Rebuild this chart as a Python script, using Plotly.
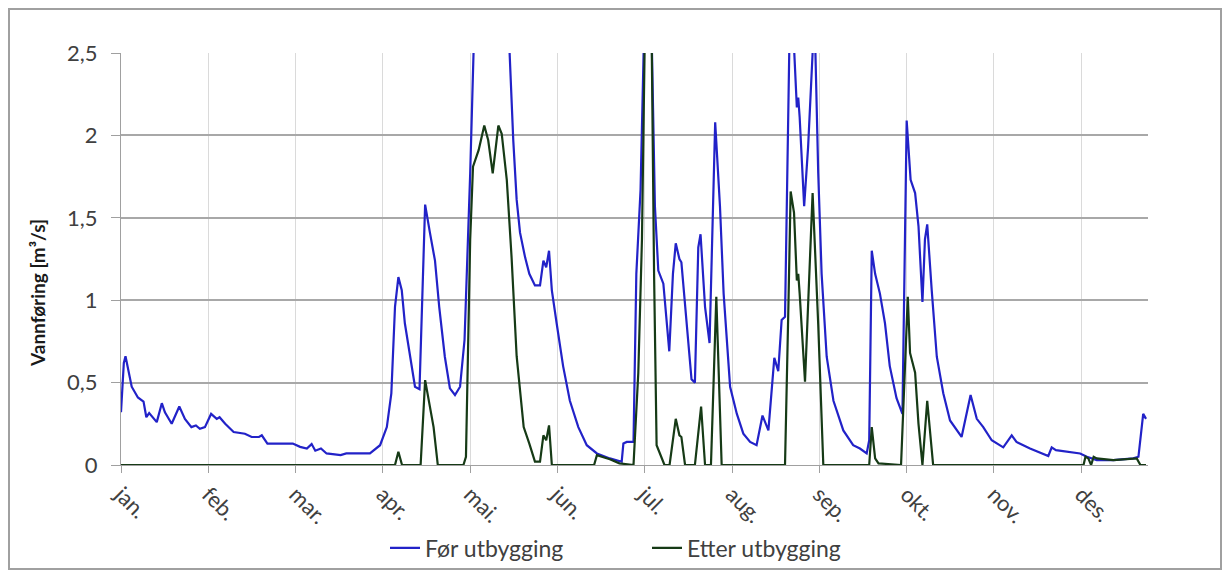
import plotly.graph_objects as go

# ---- data (day of year -> discharge m3/s) ----
month_labels = ["jan.", "feb.", "mar.", "apr.", "mai.", "jun.", "jul.", "aug.", "sep.", "okt.", "nov.", "des."]
month_tick_days = [0, 31, 62, 93, 124, 155, 186, 217, 248, 279, 310, 341]

y_tick_vals = [0, 0.5, 1, 1.5, 2, 2.5]
y_tick_text = ["0", "0,5", "1", "1,5", "2", "2,5"]

for_days = [0, 1, 1.6, 3.8, 6, 8, 9, 10, 12.7, 14.5, 15.6, 18, 20.7, 22.7, 25, 26.6, 28, 29.8,
            32, 34, 35, 37, 40, 44, 46.4, 49, 50, 52, 61, 63.6, 66, 67.7, 69, 71, 73, 78, 80,
            88.4, 92, 94.4, 96, 97.3, 98.5, 99.7, 100.8, 102.6, 104.4, 106, 107, 108, 109.7,
            111.5, 113, 115, 116.8, 118.6, 120.4, 122, 124, 125, 126, 132, 137, 138, 139.3,
            140.5, 141.7, 143.5, 145, 147, 148.8, 150, 151, 152, 153, 154.7, 157, 159.4, 162.4,
            165.4, 169, 173.6, 177.8, 178.4, 179.6, 182, 183, 184.5, 185.5, 186.5, 188, 188.6,
            189.6, 190.8, 192.6, 194.7, 196, 197, 198.3, 199, 200.9, 202.6, 203.8, 205, 205.8,
            207.4, 209, 210, 211, 212.7, 214, 216.3, 218.7, 221, 223.4, 225.7, 227.8, 229.9,
            231, 232, 233.4, 234.6, 235.8, 237.3, 238, 239, 240, 240.5, 241, 242.6, 244, 245.6,
            246, 246.6, 247.6, 248.8, 250.6, 253, 256.5, 260, 262.4, 264.8, 265.7, 266.6, 267.8,
            269.5, 271.3, 273, 275.4, 277.5, 279, 280.4, 282, 283.2, 284.6, 285.5, 286.3, 287.9,
            289.7, 292, 294.4, 298.5, 301.7, 303.9, 306.2, 309.2, 313.3, 316.3, 318, 322.8,
            329.3, 330.5, 332, 340.6, 343, 346.5, 352.4, 359.5, 361.3, 363, 364]
for_values = [0.32, 0.62, 0.66, 0.475, 0.41, 0.385, 0.29, 0.315, 0.26, 0.375, 0.32, 0.25, 0.355, 0.28,
              0.23, 0.24, 0.22, 0.23, 0.31, 0.28, 0.29, 0.25, 0.2, 0.19, 0.17, 0.17, 0.18, 0.13,
              0.13, 0.11, 0.10, 0.127, 0.087, 0.1, 0.07, 0.06, 0.07, 0.07, 0.12, 0.23, 0.435,
              0.96, 1.14, 1.06, 0.86, 0.657, 0.475, 0.46, 0.96, 1.58, 1.41, 1.24, 0.96, 0.657,
              0.465, 0.425, 0.475, 0.76, 1.77, 2.55, 3.0, 3.3, 2.9, 2.5, 1.97, 1.61, 1.41, 1.26,
              1.16, 1.09, 1.09, 1.24, 1.2, 1.30, 1.06, 0.86, 0.6, 0.39, 0.23, 0.12, 0.07, 0.04,
              0.02, 0.13, 0.14, 0.14, 1.16, 1.67, 2.5, 3.2, 3.0, 2.5, 1.57, 1.18, 1.10, 0.69,
              1.16, 1.345, 1.25, 1.23, 0.84, 0.52, 0.5, 1.32, 1.40, 0.96, 0.74, 1.37, 2.08,
              1.57, 1.04, 0.475, 0.31, 0.19, 0.14, 0.12, 0.30, 0.21, 0.455, 0.65, 0.57, 0.88,
              0.9, 2.5, 2.9, 2.5, 2.17, 2.23, 2.11, 1.57, 1.93, 2.5, 2.7, 2.5, 1.77, 1.16, 0.657,
              0.39, 0.21, 0.12, 0.10, 0.07, 0.15, 1.30, 1.16, 1.04, 0.86, 0.6, 0.405, 0.31, 2.09,
              1.73, 1.65, 1.45, 0.99, 1.37, 1.46, 1.06, 0.657, 0.435, 0.27, 0.17, 0.425, 0.28,
              0.23, 0.15, 0.107, 0.18, 0.14, 0.10, 0.055, 0.107, 0.09, 0.07, 0.05, 0.03, 0.03,
              0.04, 0.05, 0.31, 0.28]

etter_days = [0, 97.3, 98.5, 99.8, 106.4, 108, 111, 112.5, 121.6, 122.5, 124, 125, 127, 129, 130.4,
              132, 134, 135.2, 137, 138.7, 140.5, 143, 145, 147, 148.8, 150, 151, 152, 153, 168,
              169, 173.6, 177, 182, 183.7, 185, 186, 187.5, 188.5, 189.3, 190.2, 191.6, 193,
              194.8, 197, 198.3, 199, 200.3, 203.8, 206, 207.4, 209.5, 211.4, 213.3, 235.8, 237,
              237.8, 239, 240, 240.5, 241, 242.9, 244, 245.6, 247.6, 249.4, 265.7, 266.6, 267.8,
              269, 277, 279.4, 280.2, 282, 283.2, 284.6, 286.3, 288.4, 341.8, 342.5, 343.5, 344.5,
              345.4, 346.5, 352.4, 360.7, 362, 364]
etter_values = [0, 0, 0.08, 0, 0, 0.515, 0.23, 0, 0, 0.05, 1.37, 1.81, 1.91, 2.06, 1.97, 1.77, 2.06,
                2.01, 1.73, 1.26, 0.66, 0.23, 0.13, 0.02, 0.02, 0.18, 0.15, 0.24, 0, 0, 0.06,
                0.035, 0.01, 0, 0.56, 1.37, 2.6, 2.8, 2.5, 1.16, 0.12, 0.06, 0, 0, 0.28, 0.18,
                0.17, 0, 0, 0.355, 0, 0, 1.02, 0, 0, 0.96, 1.66, 1.53, 1.12, 1.16, 1.04, 0.505,
                1.0, 1.65, 0.85, 0, 0, 0.23, 0.04, 0.01, 0, 1.02, 0.68, 0.56, 0.25, 0, 0.39, 0,
                0, 0.05, 0.04, 0, 0.05, 0.04, 0.03, 0.04, 0, 0]

# ---- figure geometry (page has an 8px body margin) ----
OFF = 8
W, H = 1214, 562
L, T = 113, 45
pw, ph = 1027, 412
R = W - L - pw
B = H - T - ph

def px_x(page_x):
    return (page_x - OFF - L) / pw

def px_y(page_y):
    return (T + ph - (page_y - OFF)) / ph

text_col = "#404040"
font_family = "Lato, Open Sans, sans-serif"

fig = go.Figure()
fig.add_trace(go.Scatter(x=for_days, y=for_values, mode="lines", name="Før utbygging",
                         line=dict(color="#2222c8", width=2.2)))
fig.add_trace(go.Scatter(x=etter_days, y=etter_values, mode="lines", name="Etter utbygging",
                         line=dict(color="#163a16", width=2.2)))

fig.update_layout(
    width=W, height=H,
    margin=dict(l=L, r=R, t=T, b=B, pad=0, autoexpand=False),
    paper_bgcolor="white", plot_bgcolor="white",
    font=dict(family=font_family, color=text_col, size=21),
    showlegend=True,
    legend=dict(orientation="h", xref="container", yref="container",
                x=(385 - OFF) / W, xanchor="left", y=(H - (548 - OFF)) / H, yanchor="middle",
                font=dict(size=23, color=text_col), bgcolor="rgba(0,0,0,0)",
                entrywidth=217, entrywidthmode="pixels"),
    xaxis=dict(range=[0, 364.7], tickmode="array", tickvals=month_tick_days, ticktext=month_labels,
               tickangle=45, ticks="outside", ticklen=7, tickcolor="#a0a0a0",
               showgrid=True, gridcolor="#dadada", gridwidth=1, automargin=False,
               showline=True, linecolor="#a0a0a0", linewidth=1, zeroline=False,
               tickfont=dict(size=22, color=text_col)),
    yaxis=dict(range=[0, 2.5], tickmode="array", tickvals=y_tick_vals, ticktext=y_tick_text,
               ticks="outside", ticklen=9, tickcolor="#a0a0a0", automargin=False,
               showgrid=True, gridcolor="#a8a8a8", gridwidth=2,
               showline=True, linecolor="#a0a0a0", linewidth=1, zeroline=False,
               ticklabelstandoff=9,
               tickfont=dict(size=22, color=text_col)),
    shapes=[dict(type="rect", xref="paper", yref="paper",
                 x0=(1 - L) / pw, x1=(W - 1 - L) / pw, y0=(T + ph - (H - 1)) / ph, y1=(T + ph - 1) / ph,
                 line=dict(color="#a0a0a0", width=2), layer="below")],
    annotations=[dict(text="<b>Vannføring [m³/s]</b>", textangle=-90, xref="paper", yref="paper",
                      x=px_x(37), y=px_y(293), xanchor="center", yanchor="middle", showarrow=False,
                      font=dict(size=19, color="#1a1a1a", family=font_family))],
)

fig.write_html("out.html")
